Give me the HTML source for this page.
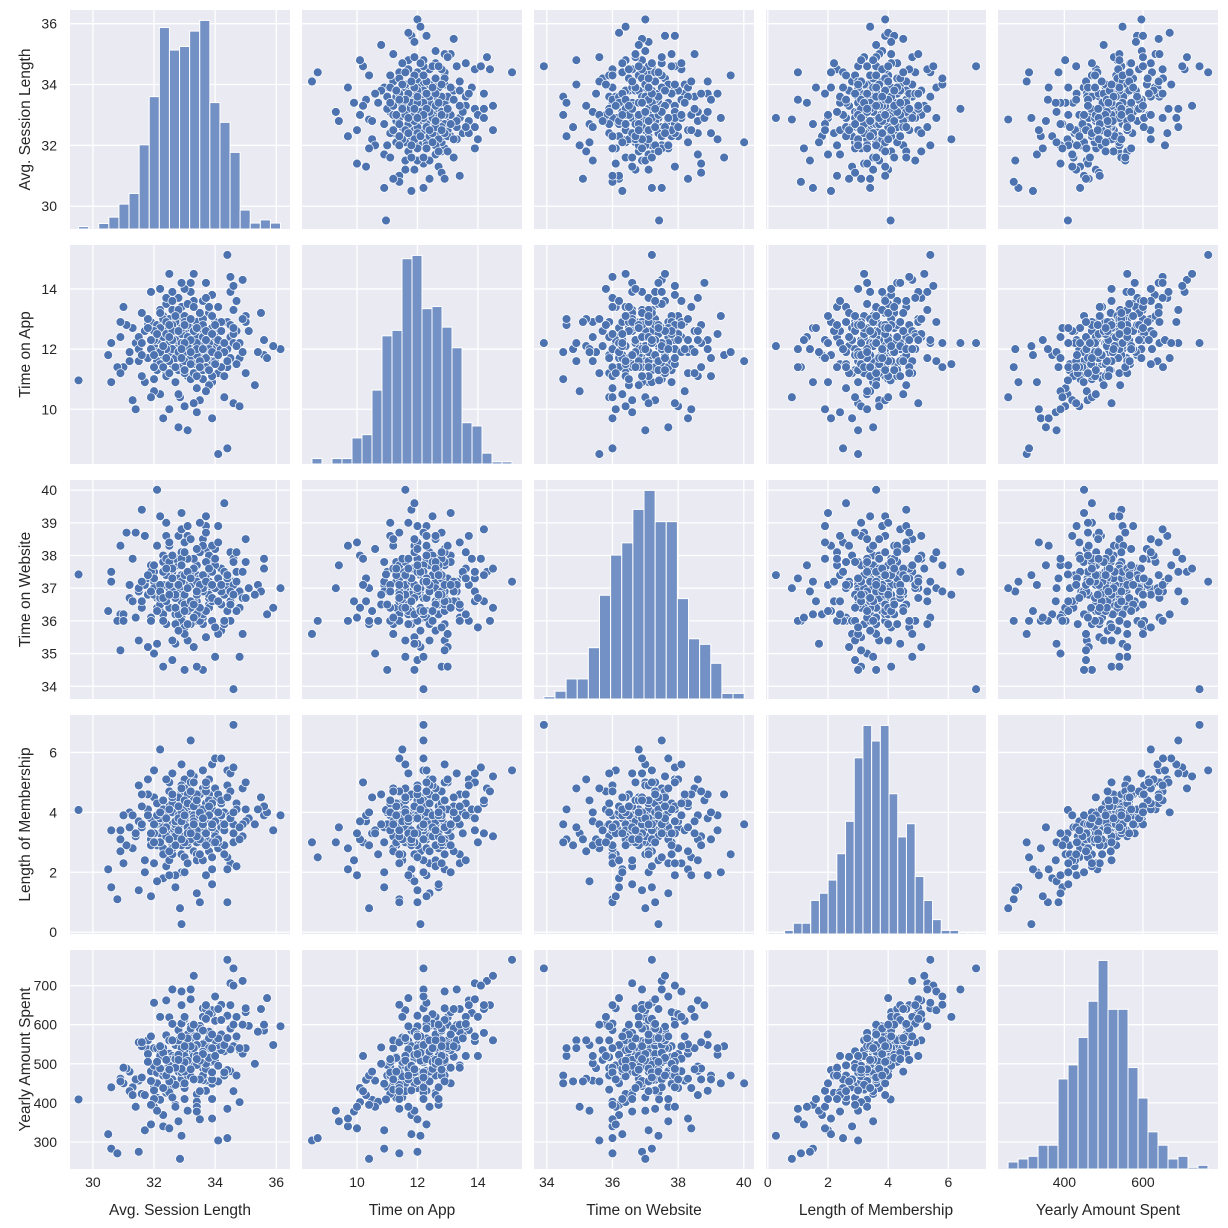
<!DOCTYPE html>
<html><head><meta charset="utf-8"><style>
body{margin:0;background:#fff;}
svg{display:block;font-family:"Liberation Sans",Arial,sans-serif;}
</style></head><body>
<svg id="chart" width="1228" height="1228" viewBox="0 0 1228 1228"></svg>
<script>
const varNames=["Avg. Session Length","Time on App","Time on Website","Length of Membership","Yearly Amount Spent"];
const domains=[[29.25,36.45],[8.18,15.46],[33.61,40.31],[-0.06,7.25],[231,791]];
const ticksSession=[30,32,34,36];
const ticksApp=[10,12,14];
const ticksWebY=[34,35,36,37,38,39,40];
const ticksWebX=[34,36,38,40];
const ticksMember=[0,2,4,6];
const ticksYearlyY=[300,400,500,600,700];
const ticksYearlyX=[400,600];
const binRanges=[[29.53,36.14],[8.51,15.13],[33.91,40.01],[0.27,6.92],[256.67,765.52]];
const histSession=[6,0,14,30,63,90,213,335,510,453,462,501,528,320,270,194,48,15,23,15];
const histApp=[15,0,15,15,72,81,204,354,369,567,576,429,435,378,321,114,105,30,6,6];
const histWeb=[6,21,54,54,138,279,387,420,510,561,477,477,270,162,147,96,15,15];
const histMember=[3,9,27,27,84,102,135,201,282,441,522,483,522,351,243,276,144,84,36,9,9,3,3];
const histYearly=[21,30,38,71,71,269,311,393,501,623,477,477,303,212,111,71,30,38,5,11];
// rows: session, app, website, membership, yearly
const rows=[
[33.2,12.5,37.1,3.8,543],[32.1,11.3,36.4,2.9,413],[34.0,12.9,38.2,4.4,610],[33.6,11.8,35.9,3.2,489],[32.6,12.2,37.5,3.6,504],
[31.8,12.8,36.8,4.1,537],[33.9,10.9,37.8,3.0,449],[32.9,13.4,36.1,2.6,496],[34.4,12.0,37.0,4.9,623],[33.1,11.1,38.6,3.9,493],
[32.4,12.6,36.6,2.2,426],[33.5,13.0,37.3,3.4,546],[31.5,11.6,35.4,3.7,457],[34.8,11.7,36.9,3.5,535],[33.0,12.4,37.9,5.1,615],
[32.2,10.5,36.3,3.3,408],[33.7,12.3,38.9,1.9,431],[32.8,13.7,36.0,3.9,586],[34.2,11.4,37.6,4.3,558],[33.3,12.1,35.2,2.7,462],
[31.9,12.9,37.7,3.1,481],[33.8,10.8,36.5,4.6,542],[32.5,11.9,38.3,4.2,526],[34.6,13.3,37.2,3.6,599],[32.7,12.7,36.2,1.5,395],
[33.4,11.5,37.4,2.4,422],[31.2,11.9,36.7,4.0,480],[35.1,12.6,37.0,3.8,597],[32.3,13.1,38.0,3.5,525],[33.6,12.2,36.1,5.4,642],
[32.0,11.0,37.5,3.6,441],[33.9,13.8,37.9,4.1,630],[34.1,11.2,35.6,2.8,455],[32.6,11.6,36.9,3.0,443],[33.0,12.0,38.4,2.5,438],
[30.9,12.4,36.2,3.4,455],[33.5,10.3,37.3,3.7,459],[32.9,12.8,35.8,4.7,602],[34.5,12.4,38.1,2.3,481],[33.2,14.2,36.6,3.3,579],
[31.7,10.9,37.1,2.0,330],[33.3,11.7,36.4,4.5,558],[32.2,12.5,39.2,3.9,523],[34.3,12.9,36.8,2.9,532],[32.8,11.3,37.8,4.3,518],
[33.7,11.9,35.5,3.1,489],[32.4,13.5,37.4,4.0,573],[33.1,12.3,36.3,3.8,534],[35.6,11.8,37.6,3.9,585],[31.4,12.2,38.7,3.2,460],
[33.4,10.7,36.0,2.6,403],[32.5,13.0,37.0,5.0,619],[34.0,12.7,37.7,3.3,541],[32.9,11.4,36.6,3.6,480],[33.6,12.6,38.5,4.8,620],
[31.6,11.1,36.4,3.5,423],[32.7,12.0,35.3,4.4,548],[33.8,13.2,37.2,2.7,518],[32.1,12.8,36.7,3.0,477],[34.7,11.5,37.5,4.2,567],
[33.0,10.1,38.0,3.7,438],[32.3,11.8,36.2,1.8,369],[33.5,12.4,37.3,4.6,597],[32.6,13.9,36.9,3.4,558],[34.2,12.1,35.7,3.5,535],
[31.3,12.7,37.9,2.8,440],[33.2,11.0,36.5,4.0,497],[32.8,12.3,38.6,3.1,482],[33.9,11.6,37.0,5.6,637],[32.0,12.1,36.8,4.5,540],
[33.3,13.6,37.6,3.9,595],[32.4,11.2,35.9,3.2,434],[34.4,12.9,36.3,2.1,484],[33.0,12.6,37.1,3.6,529],[31.0,11.4,36.2,3.9,450],
[33.7,10.6,38.2,3.4,457],[32.5,12.2,37.4,2.4,427],[35.0,13.1,37.8,4.1,632],[32.9,12.5,36.0,4.9,603],[33.6,11.3,37.2,3.0,458],
[32.2,13.3,36.6,3.7,542],[34.1,12.0,38.9,3.8,548],[31.8,11.7,37.3,4.6,525],[33.1,12.9,35.4,2.9,501],[32.7,10.9,36.9,3.5,449],
[33.4,12.4,37.7,1.3,390],[34.9,11.9,36.7,3.2,526],[32.1,12.3,38.3,4.3,539],[33.8,13.4,36.4,3.6,582],[32.6,11.5,37.0,2.6,414],
[30.5,11.8,36.3,2.1,320],[30.6,10.9,37.2,1.5,283],[30.8,11.4,36.0,1.1,271],[31.5,12.0,36.9,1.4,275],[32.85,10.4,37.0,0.8,257],
[32.9,12.1,37.4,0.27,316],[29.53,10.96,37.42,4.08,409],[34.1,8.51,35.6,3.0,304],[34.4,8.7,36.0,2.5,310],[34.6,12.2,33.91,6.92,744],
[34.4,15.13,37.2,5.4,766],[36.14,12.0,37.0,3.9,596],[32.1,11.6,40.01,3.6,450],[35.7,11.7,36.2,4.0,668],[35.9,12.1,36.4,3.4,548],
[35.6,12.3,37.9,4.2,600],[35.4,11.9,37.1,4.1,582],[34.9,14.3,37.5,4.8,712],[34.5,13.9,36.6,5.3,706],[34.6,14.1,37.9,5.5,700],
[33.3,14.5,37.6,5.2,725],[32.6,13.3,36.9,5.3,690],[32.9,12.9,38.1,5.6,685],[32.0,12.3,37.2,5.4,656],[32.4,13.7,38.6,5.1,662],
[33.2,13.9,37.3,5.0,665],[34.5,14.4,36.0,4.7,650],[35.0,12.9,36.7,5.0,642],[33.2,12.2,37.5,6.4,690],[32.2,11.5,36.8,6.1,620],
[33.0,14.0,35.8,4.1,620],[33.7,14.2,37.4,4.3,640],[31.2,11.6,37.1,3.5,430],[31.1,12.8,38.7,2.9,488],[31.0,13.4,36.0,2.3,490],
[30.9,11.2,38.3,2.7,462],[31.3,10.3,36.6,3.9,420],[31.6,11.8,39.4,4.6,545],[31.8,13.0,35.2,5.1,560],[32.0,10.6,35.0,3.3,390],
[32.3,9.7,36.0,2.8,340],[32.8,9.4,37.7,3.5,353],[33.4,9.9,36.6,2.4,378],[33.9,9.7,38.3,2.1,360],[34.6,10.2,37.1,3.0,430],
[34.3,10.4,35.9,4.0,470],[34.8,10.1,36.4,3.1,402],[35.0,11.2,38.5,3.7,540],[34.9,13.0,35.6,3.6,600],[32.5,14.5,36.4,3.2,560],
[32.9,14.2,38.8,4.4,650],[31.9,13.9,37.5,3.8,570],[33.1,9.3,37.0,3.0,380],[33.6,11.0,34.5,3.6,470],[32.6,12.0,34.8,2.9,455],
[33.4,12.8,34.6,3.1,520],[34.0,11.6,34.9,4.8,560],[32.4,11.1,39.0,4.0,470],[33.7,12.5,39.2,3.4,540],[34.3,11.9,39.6,2.6,470],
[32.9,13.1,39.3,2.0,450],[31.7,12.6,38.6,2.4,420],[33.5,12.0,36.0,1.0,358],[34.4,11.4,37.3,1.0,385],[32.1,11.9,35.3,1.7,380],
[33.9,12.7,36.6,1.6,410],[32.7,11.7,37.9,1.9,390],[34.0,12.2,37.7,5.8,672],[33.8,12.5,38.0,5.1,627],[33.2,11.7,35.9,5.3,596],
[34.2,11.4,36.9,5.8,651],[31.9,12.3,36.1,1.2,345],[32.5,10.0,38.4,1.9,335],[33.0,11.2,35.6,4.8,560],[34.7,12.6,37.2,2.2,470],
[32.3,12.9,37.8,2.6,470],[33.6,13.6,36.2,2.4,520],[34.1,13.4,38.4,4.6,640],[32.8,10.5,36.3,4.5,480],[33.3,10.2,37.9,5.0,520],
[31.5,12.4,37.0,4.9,555],[31.6,13.2,36.6,4.2,555],[32.2,12.7,36.5,3.9,525],[33.4,12.9,36.9,3.0,520],[33.1,12.0,38.9,4.6,575],
[32.6,12.4,35.4,4.0,520],[33.9,12.0,37.5,2.5,460],[34.3,11.1,36.0,3.4,478],[32.0,11.4,37.7,2.3,410],[33.7,11.4,38.7,4.7,555],
[32.4,12.0,37.9,3.3,480],[33.0,13.1,36.4,3.2,535],[34.6,12.5,37.8,3.3,545],[32.9,11.8,36.8,2.9,462],[33.5,11.9,38.1,3.9,513],
[33.2,12.7,37.5,4.2,565],[32.7,12.9,35.9,3.6,517],[34.0,12.4,37.0,3.2,520],[32.3,12.4,37.1,3.5,480],[33.8,12.2,36.7,4.4,565],
[33.3,11.5,36.6,3.8,495],[32.8,12.2,37.3,3.9,508],[33.6,13.0,38.3,3.5,550],[32.5,11.2,37.6,4.7,510],[34.5,11.7,36.5,3.9,537],
[33.1,12.8,37.9,2.3,470],[32.0,12.6,37.0,3.6,495],[33.9,11.1,37.1,4.3,505],[32.6,12.8,37.3,4.3,560],[33.4,12.2,36.2,4.2,548],
[33.0,11.6,36.8,4.4,520],[34.2,12.6,36.5,3.9,575],[33.0,11.9,34.5,3.0,450],[32.3,13.0,34.6,4.1,540],[33.5,11.7,39.0,3.1,460],
[31.4,10.0,36.1,3.3,390],[30.6,12.2,37.5,3.4,440],[35.5,13.2,36.9,4.5,640],[31.9,10.4,36.0,2.9,395],[33.7,13.7,37.1,4.9,650],
[34.8,12.2,34.9,3.5,540],[32.2,14.0,36.7,3.0,520],[35.3,10.8,36.8,3.6,500],[30.9,12.9,35.1,3.1,455],[34.7,13.6,38.1,4.3,620],
[33.1,12.1,37.0,3.5,508],[32.7,12.3,36.7,3.7,512],[33.4,11.8,37.2,3.4,497],[33.8,12.0,36.8,3.9,540],[32.4,12.5,37.4,3.2,487],
[33.2,11.5,36.4,3.1,468],[32.9,12.7,37.7,4.0,540],[33.6,12.4,36.9,3.6,531],[32.2,11.9,37.1,3.8,488],[34.1,12.3,37.3,4.0,565],
[33.0,12.9,36.5,3.0,504],[32.5,11.6,37.8,4.1,495],[33.7,11.7,36.3,3.3,487],[33.3,12.6,37.6,3.7,540],[32.8,11.9,36.2,4.2,523],
[34.3,12.2,37.5,3.6,548],[31.9,12.0,36.9,3.3,456],[33.5,13.2,37.0,3.9,590],[32.6,12.3,38.0,2.8,460],[33.9,11.9,36.7,3.0,478],
[33.1,12.4,35.9,4.3,560],[32.3,12.1,37.5,4.4,528],[34.0,11.5,37.9,3.7,505],[33.2,13.0,36.6,3.4,545],[32.7,11.4,36.8,3.2,446],
[33.6,12.8,37.4,4.1,585],[32.1,12.5,36.3,3.9,505],[33.4,12.0,38.2,4.6,570],[32.9,12.2,37.2,3.1,478],[34.5,12.8,36.9,3.8,590],
[33.0,11.3,37.4,3.9,480],[32.4,12.9,36.6,3.5,510],[33.7,12.6,37.8,2.9,500],[32.8,13.3,37.1,3.8,560],[33.3,11.2,36.1,3.6,460],
[32.0,11.8,37.3,3.0,432],[34.2,12.9,37.1,4.4,612],[33.5,11.6,36.4,4.0,508],[32.6,12.6,37.6,4.5,560],[33.9,12.5,36.0,3.5,540],
[33.1,13.5,37.5,3.3,565],[32.5,12.4,37.1,2.7,455],[33.8,11.3,37.6,4.2,515],[32.2,13.2,36.9,4.0,545],[33.4,12.7,36.8,3.2,520],
[32.9,11.7,37.9,3.7,487],[34.1,11.8,36.6,3.1,495],[33.2,12.3,37.3,4.7,590],[32.7,13.1,36.4,2.9,490],[33.6,12.0,37.0,3.8,525],
[31.6,12.2,37.2,3.6,465],[34.7,12.1,36.3,4.1,570],[32.3,11.4,36.7,3.4,438],[33.0,12.8,38.1,3.9,545],[33.5,11.4,37.1,2.6,430],
[32.8,12.6,35.7,3.4,510],[34.4,11.6,37.4,4.5,566],[33.3,13.4,36.5,4.2,600],[32.4,11.7,37.6,3.8,470],[33.7,12.3,37.2,5.0,615],
[33.0,12.2,36.3,2.0,410],[32.6,13.6,37.3,4.6,602],[34.0,12.8,35.8,3.0,520],[33.2,11.9,38.5,3.3,486],[31.8,12.7,37.4,3.9,505],
[33.9,13.1,37.1,3.6,575],[32.5,12.8,36.8,3.1,485],[33.4,11.1,36.9,4.4,512],[32.9,12.0,37.7,4.8,570],[34.6,12.7,36.8,4.0,600]
];
const hists=[histSession,histApp,histWeb,histMember,histYearly];
const xTicks=[ticksSession,ticksApp,ticksWebX,ticksMember,ticksYearlyX];
const yTicks=[ticksSession,ticksApp,ticksWebY,ticksMember,ticksYearlyY];

const NS="http://www.w3.org/2000/svg";
const svg=document.getElementById('chart');
const colX=[70,302,534,766,998], rowY=[10,245,480,715,950], PW=220, PH=219;
function mk(tag,attrs,parent){const e=document.createElementNS(NS,tag);for(const k in attrs)e.setAttribute(k,attrs[k]);(parent||svg).appendChild(e);return e;}
function xs(j,v){const d=domains[j];return colX[j]+(v-d[0])/(d[1]-d[0])*PW;}
function ys(i,v){const d=domains[i];return rowY[i]+PH-(v-d[0])/(d[1]-d[0])*PH;}

for(let i=0;i<5;i++){for(let j=0;j<5;j++){
  const g=mk('g',{});
  
  
  const bg=mk('rect',{x:colX[j],y:rowY[i],width:PW,height:PH,fill:'#eaeaf2'},g);
  
  
  xTicks[j].forEach(t=>{const x=xs(j,t);mk('line',{x1:x,x2:x,y1:rowY[i],y2:rowY[i]+PH,stroke:'#fff','stroke-width':1.3},g);});
  yTicks[i].forEach(t=>{const y=ys(i,t);mk('line',{x1:colX[j],x2:colX[j]+PW,y1:y,y2:y,stroke:'#fff','stroke-width':1.3},g);});
  if(i===j){
    const h=hists[i], br=binRanges[i], n=h.length, bw=(br[1]-br[0])/n;
    const mx=Math.max(...h)*1.05;
    h.forEach((c,k)=>{ if(c<=0) return;
      const x0=xs(j,br[0]+k*bw), x1=xs(j,br[0]+(k+1)*bw);
      const hh=c/mx*PH;
      const r=mk('rect',{x:x0,y:rowY[i]+PH-hh,width:x1-x0,height:hh,fill:'#7391c4',stroke:'#fff','stroke-width':1},g);
      
      
    });
  } else {
    rows.forEach(r=>{
      const c=mk('circle',{cx:xs(j,r[j]),cy:ys(i,r[i]),r:4.4,fill:'#4c72b0',stroke:'#fff','stroke-width':0.7},g);
      
      
    });
  }
}}
for(let i=0;i<5;i++){
  yTicks[i].forEach(t=>{const e=mk('text',{x:57,y:ys(i,t)+5,'text-anchor':'end','font-size':14,fill:'#262626'});e.textContent=t;
    
    });
  const cy=rowY[i]+PH/2;
  const l=mk('text',{x:0,y:0,transform:`translate(30,${cy}) rotate(-90)`,'text-anchor':'middle','font-size':15.5,fill:'#262626'});
  l.textContent=varNames[i];
  
  
}
for(let j=0;j<5;j++){
  xTicks[j].forEach(t=>{const e=mk('text',{x:xs(j,t),y:1187,'text-anchor':'middle','font-size':14,fill:'#262626'});e.textContent=t;
    
    });
  const l=mk('text',{x:colX[j]+PW/2,y:1215,'text-anchor':'middle','font-size':15.5,fill:'#262626'});
  l.textContent=varNames[j];
  
  
}
</script>
</body></html>
